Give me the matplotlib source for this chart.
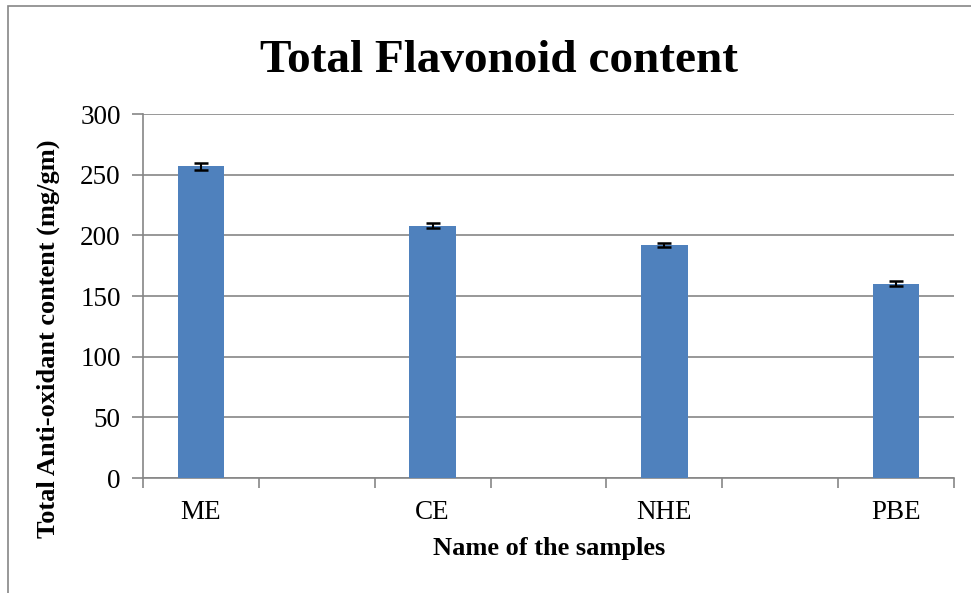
import matplotlib.pyplot as plt
import numpy as np
from matplotlib.patches import Rectangle

plt.rcParams['font.family'] = ['Liberation Serif', 'DejaVu Serif']

# 数据（类别之间有空位）
samples = ['ME', 'CE', 'NHE', 'PBE']
values = [257, 208, 192, 160]
errors = [3.0, 2.3, 1.5, 2.0]
n_slots = 7  # 横轴共 7 个位置，样本占 0, 2, 4, 6

fig = plt.figure(figsize=(9.71, 5.93), dpi=100)
ax = fig.add_axes([143 / 971, 1 - 478 / 593, (954 - 143) / 971, (478 - 114) / 593])

x = np.arange(len(samples)) * 2
ax.bar(x, values, width=0.4, color='#4f81bd', zorder=3)
ax.errorbar(x, values, yerr=errors, fmt='none', ecolor='black',
            elinewidth=1.5, capsize=4.7, capthick=1.8, zorder=4)

ax.set_xlim(-0.5, n_slots - 0.5)
ax.set_ylim(0, 300)
ax.set_yticks(range(0, 301, 50))
ax.set_xticks(x)
ax.set_xticklabels(samples)
ax.set_xticks(np.arange(-0.5, n_slots), minor=True)
ax.tick_params(axis='x', which='major', length=0, pad=16, labelsize=19.5)
ax.tick_params(axis='x', which='minor', length=7, color='#868686', width=1.2, direction='out')
ax.tick_params(axis='y', length=8, color='#868686', width=1.2, pad=8, labelsize=19.5)

ax.grid(True, axis='y', color='#868686', linewidth=1.2, zorder=0)
for s in ['top', 'right']:
    ax.spines[s].set_visible(False)
for s in ['left', 'bottom']:
    ax.spines[s].set_color('#868686')
    ax.spines[s].set_linewidth(1.2)

fig.text(499 / 971, 1 - 72 / 593, 'Total Flavonoid content', fontsize=34,
         fontweight='bold', ha='center', va='baseline')
fig.text(549 / 971, 1 - 549 / 593, 'Name of the samples', fontsize=19,
         fontweight='bold', ha='center', va='center')
fig.text(48 / 971, 1 - 339 / 593, 'Total Anti-oxidant content (mg/gm)', fontsize=19,
         fontweight='bold', ha='center', va='center', rotation=90)

# 外框
fig.patches.append(Rectangle((8 / 971, -0.1), 1.2, 1 - 6 / 593 + 0.1,
                             transform=fig.transFigure, fill=False,
                             edgecolor='#868686', linewidth=1.2))

fig.savefig('out.png', dpi=100)
